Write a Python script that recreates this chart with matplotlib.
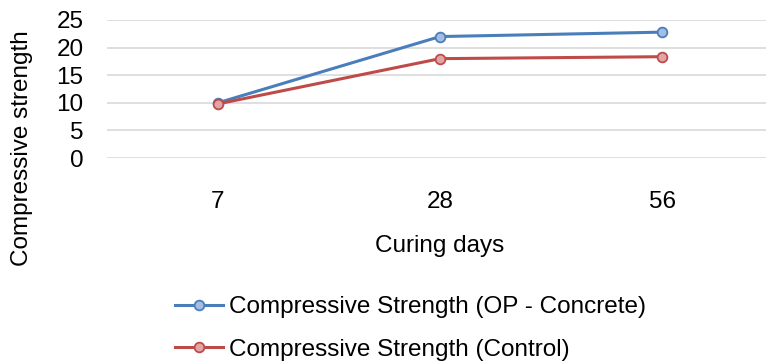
import matplotlib.pyplot as plt
import numpy as np

plt.rcParams['font.family'] = ['Liberation Sans', 'DejaVu Sans']

days = ['7', '28', '56']
op_concrete = [10.0, 22.0, 22.8]
control = [9.8, 18.0, 18.35]
y_ticks = [0, 5, 10, 15, 20, 25]

fs = 17.5

fig = plt.figure(figsize=(7.66, 3.61), dpi=100)
# plot area runs past the right edge of the figure
ax = fig.add_axes([107 / 766, 1 - 158 / 361, 659 / 766, 138 / 361])

x = np.arange(len(days))
ax.plot(x, op_concrete, color='#4a7ebb', linewidth=2.2, marker='o', markersize=7,
        markerfacecolor='#a5bde0', markeredgecolor='#4a7ebb', markeredgewidth=1.3,
        clip_on=False, zorder=3, label='Compressive Strength (OP - Concrete)')
ax.plot(x, control, color='#be4b48', linewidth=2.2, marker='o', markersize=7,
        markerfacecolor='#e0a5a4', markeredgecolor='#be4b48', markeredgewidth=1.3,
        clip_on=False, zorder=3, label='Compressive Strength (Control)')

ax.set_xlim(-0.5, -0.5 + 659 / 222)
ax.set_ylim(0, 25)
ax.set_xticks(x)
ax.set_xticklabels(days)
ax.set_yticks(y_ticks)
ax.yaxis.grid(True, color='#d9d9d9', linewidth=1.2)
ax.set_axisbelow(True)
for s in ax.spines.values():
    s.set_visible(False)
ax.tick_params(axis='both', length=0, labelsize=fs)
ax.tick_params(axis='x', pad=24)
ax.tick_params(axis='y', pad=17)

ax.set_xlabel('Curing days', fontsize=fs)
ax.xaxis.set_label_coords(0.5053, -0.558)
ax.set_ylabel('Compressive strength', fontsize=fs)
ax.yaxis.set_label_coords(-0.1123, 0.069)

fig.legend(loc='upper left', bbox_to_anchor=(175 / 766, 1 - 296 / 361),
           frameon=False, fontsize=fs, handlelength=1.98, handletextpad=0.25,
           labelspacing=0.85, borderpad=0, borderaxespad=0)

fig.savefig('out.png', dpi=100)
